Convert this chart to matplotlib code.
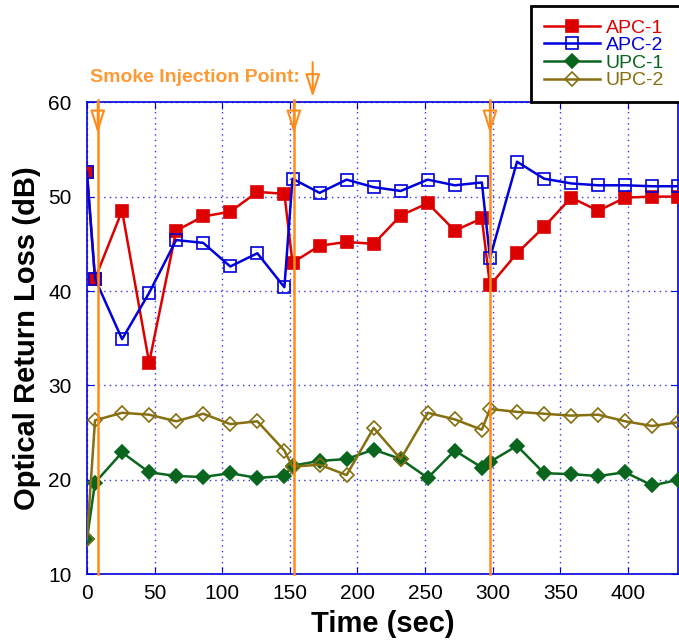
import matplotlib
matplotlib.use("Agg")
import matplotlib.pyplot as plt

plt.rcParams["font.family"] = ["Liberation Sans", "DejaVu Sans"]

time = [0, 6, 26, 46, 66, 86, 106, 126, 146, 152, 172, 192, 212, 232, 252,
        272, 292, 298, 318, 338, 358, 378, 398, 418, 437]
apc1 = [52.6, 41.3, 48.5, 32.4, 46.4, 47.9, 48.4, 50.5, 50.3, 43.0, 44.8, 45.2, 45.0,
        48.0, 49.3, 46.4, 47.7, 40.6, 44.0, 46.8, 49.9, 48.5, 49.9, 50.0, 50.0]
apc2 = [52.6, 41.3, 34.9, 39.8, 45.4, 45.1, 42.6, 44.0, 40.4, 51.9, 50.4, 51.8, 51.0,
        50.6, 51.8, 51.2, 51.5, 43.5, 53.7, 51.9, 51.4, 51.2, 51.2, 51.1, 51.1]
upc1 = [13.7, 19.7, 22.9, 20.8, 20.4, 20.3, 20.7, 20.2, 20.4, 21.5, 22.0, 22.2, 23.2,
        22.2, 20.2, 23.1, 21.3, 21.9, 23.6, 20.7, 20.6, 20.4, 20.8, 19.4, 20.0]
upc2 = [13.7, 26.3, 27.1, 26.9, 26.2, 27.0, 25.9, 26.2, 23.1, 21.4, 21.6, 20.5, 25.5,
        22.2, 27.1, 26.4, 25.3, 27.5, 27.2, 27.0, 26.8, 26.9, 26.2, 25.7, 26.1]
injections = [8, 153, 298]

orange = "#FF8C1A"
head = "-|>,head_length=1.4,head_width=0.45"
fig = plt.figure(figsize=(6.79, 6.43), dpi=100)
ax = fig.add_axes([0.128, 0.107, 0.8705, 0.734])

series = [
    ("APC-1", apc1, "#DD0000", "s", "#DD0000"),
    ("APC-2", apc2, "#0000DD", "s", "none"),
    ("UPC-1", upc1, "#0A661E", "D", "#0A661E"),
    ("UPC-2", upc2, "#866F10", "D", "none"),
]
handles = []
for name, vals, col, mk, fc in series:
    h, = ax.plot(time, vals, color=col, lw=1.8, marker=mk, ms=9 if mk == "s" else 7.5,
                 mfc=fc, mec=col, mew=1.2, label=name, zorder=3)
    handles.append(h)

for t in injections:
    ax.plot([t, t], [10, 60.2], color=orange, lw=1.8, clip_on=False, zorder=4)
    ax.annotate("", xy=(t, 56.7), xytext=(t, 60.0),
                arrowprops=dict(arrowstyle=head, color=orange, fc="none", lw=1.5,
                                shrinkA=0, shrinkB=0),
                annotation_clip=False, zorder=4)

ax.text(0.005, 1.053, "Smoke Injection Point:", transform=ax.transAxes, color="#FF9933",
        fontsize=14, fontweight="bold", va="center", ha="left")
ax.annotate("", xy=(0.382, 1.011), xytext=(0.382, 1.085), xycoords="axes fraction",
            arrowprops=dict(arrowstyle=head, color=orange, fc="none", lw=1.5,
                            shrinkA=0, shrinkB=0),
            annotation_clip=False)

ax.set_xlim(0, 437)
ax.set_ylim(10, 60)
ax.set_xticks(range(0, 401, 50))
ax.set_yticks(range(10, 61, 10))
ax.grid(True, color="#3333EE", linestyle=(0, (1, 3)), lw=1.0)
for s in ax.spines.values():
    s.set_color("#0000DD")
    s.set_linewidth(1.2)
ax.tick_params(direction="in", colors="#0000DD", labelcolor="black", labelsize=15,
               top=True, right=True, length=5)
ax.tick_params(axis="x", pad=7)
ax.tick_params(axis="y", pad=11)
ax.set_xlabel("Time (sec)", fontsize=21, fontweight="bold", labelpad=5)
ax.set_ylabel("Optical Return Loss (dB)", fontsize=21, fontweight="bold", labelpad=5)

leg = fig.legend(handles=handles, loc="lower left",
                 bbox_to_anchor=(531 / 679, 1 - 102 / 643, 170 / 679, 0), mode="expand",
                 fontsize=14, handlelength=2.9, handletextpad=0.3, labelspacing=0.0,
                 borderpad=0.65, borderaxespad=0, fancybox=False, framealpha=1)
leg.get_frame().set_edgecolor("black")
leg.get_frame().set_linewidth(2)
for txt, (_, _, col, _, _) in zip(leg.get_texts(), series):
    txt.set_color(col)

fig.savefig("out.png", dpi=100)
